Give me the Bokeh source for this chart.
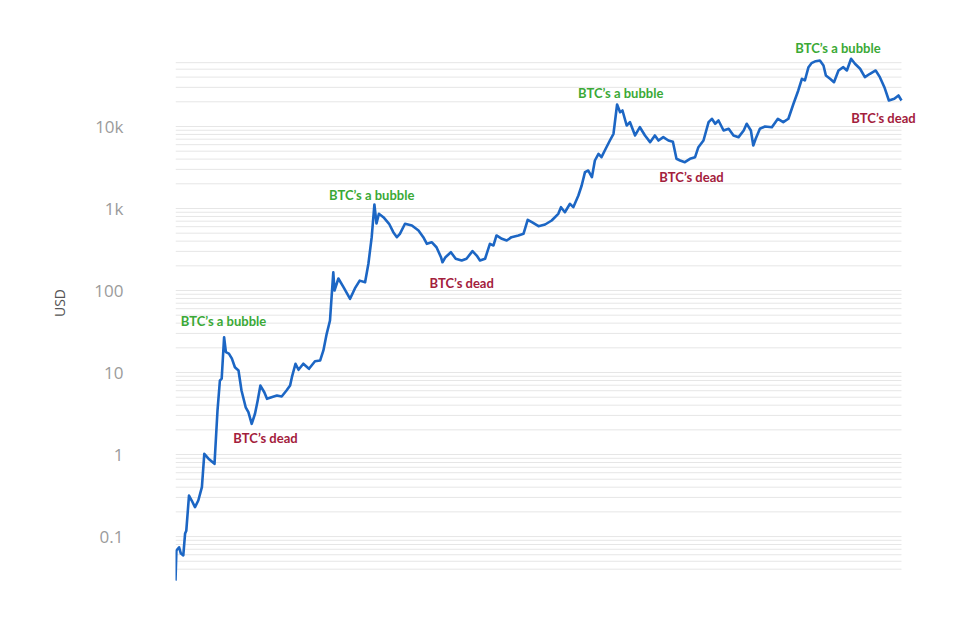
from bokeh.plotting import figure
from bokeh.models import Range1d, FixedTicker, LabelSet, ColumnDataSource
from bokeh.core.properties import value
from bokeh.embed import file_html
from bokeh.resources import INLINE

# Bitcoin price (USD), x in decimal years
year = [2010.53, 2010.545, 2010.59, 2010.62, 2010.66, 2010.69, 2010.71, 2010.755, 2010.80, 2010.855,
        2010.91, 2010.97, 2011.01, 2011.08, 2011.18, 2011.23, 2011.27, 2011.30, 2011.34, 2011.37,
        2011.42, 2011.47, 2011.52, 2011.58, 2011.63, 2011.70, 2011.745, 2011.80, 2011.855, 2011.90,
        2011.945, 2012.01, 2012.055, 2012.13, 2012.22, 2012.30, 2012.38, 2012.44, 2012.47, 2012.53,
        2012.58, 2012.66, 2012.755, 2012.855, 2012.94, 2012.995, 2013.05, 2013.105, 2013.16, 2013.18,
        2013.245, 2013.33, 2013.44, 2013.52, 2013.60, 2013.69, 2013.745, 2013.80, 2013.845, 2013.88,
        2013.92, 2013.995, 2014.09, 2014.16, 2014.22, 2014.27, 2014.355, 2014.47, 2014.58, 2014.66,
        2014.72, 2014.80, 2014.88, 2014.955, 2014.98, 2015.03, 2015.12, 2015.20, 2015.30, 2015.38,
        2015.48, 2015.55, 2015.605, 2015.69, 2015.77, 2015.83, 2015.88, 2015.97, 2016.05, 2016.13,
        2016.245, 2016.33, 2016.40, 2016.47, 2016.58, 2016.69, 2016.80, 2016.91, 2016.955, 2017.02,
        2017.105, 2017.16, 2017.245, 2017.30, 2017.355, 2017.41, 2017.47, 2017.52, 2017.58, 2017.63,
        2017.70, 2017.77, 2017.83, 2017.89, 2017.94, 2017.98, 2018.05, 2018.105, 2018.19, 2018.27,
        2018.355, 2018.44, 2018.52, 2018.58, 2018.66, 2018.745, 2018.82, 2018.88, 2018.94, 2019.02,
        2019.105, 2019.19, 2019.245, 2019.33, 2019.415, 2019.47, 2019.525, 2019.58, 2019.665, 2019.75,
        2019.83, 2019.915, 2020.00, 2020.05, 2020.12, 2020.16, 2020.20, 2020.27, 2020.355, 2020.47,
        2020.57, 2020.66, 2020.745, 2020.83, 2020.91, 2020.97, 2021.02, 2021.08, 2021.13, 2021.20,
        2021.27, 2021.33, 2021.37, 2021.44, 2021.505, 2021.58, 2021.66, 2021.72, 2021.79, 2021.855,
        2021.94, 2022.02, 2022.105, 2022.20, 2022.27, 2022.345, 2022.42, 2022.51, 2022.58, 2022.63]

price = [0.029, 0.0675, 0.074, 0.062, 0.059, 0.109, 0.118, 0.316, 0.275, 0.228,
         0.275, 0.40, 1.02, 0.89, 0.77, 3.44, 7.99, 8.45, 26.9, 17.7,
         17.0, 14.8, 11.6, 10.6, 6.03, 3.77, 3.28, 2.37, 3.14, 4.56,
         6.94, 5.75, 4.78, 5.0, 5.24, 5.1, 6.03, 6.94, 8.77, 12.8,
         10.8, 12.8, 11.1, 13.7, 14.0, 18.6, 29.6, 43.1, 167, 100,
         140, 110, 79.2, 106, 132, 126, 212, 447, 1119, 656,
         861, 783, 651, 514, 447, 491, 651, 621, 539, 447,
         371, 388, 337, 255, 221, 255, 293, 244, 232, 244,
         302, 267, 232, 244, 371, 354, 469, 427, 407, 447,
         469, 491, 728, 681, 608, 638, 714, 861, 1037, 901,
         1141, 1037, 1441, 1907, 2772, 2905, 2409, 3848, 4645, 4226,
         5346, 6745, 8147, 18540, 14930, 15670, 10280, 11280, 7770, 9800,
         7770, 6440, 7770, 6745, 7410, 6745, 6500, 4036, 3848, 3670,
         4036, 4226, 5595, 6745, 11280, 12410, 10790, 11830, 8937, 9380,
         7770, 7410, 8937, 10790, 8937, 5865, 7080, 9380, 10000, 9800,
         12410, 11280, 12410, 18920, 27480, 38170, 36390, 52860, 59150, 62520,
         63830, 55460, 41880, 38170, 34690, 48170, 52860, 48170, 66960, 58170,
         50550, 39940, 43940, 48170, 39940, 30150, 20750, 21780, 23880, 20750]

tick_values = [0.1, 1, 10, 100, 1000, 10000]
tick_labels = ["0.1", "1", "10", "100", "1k", "10k"]

note_text = ["BTC\u2019s a bubble", "BTC\u2019s dead", "BTC\u2019s a bubble", "BTC\u2019s dead",
             "BTC\u2019s a bubble", "BTC\u2019s dead", "BTC\u2019s a bubble", "BTC\u2019s dead"]
note_year = [2011.33, 2012.03, 2013.80, 2015.30, 2017.95, 2019.13, 2021.57, 2022.33]
note_price = [41.9, 1.61, 1441, 125, 25250, 2388, 89340, 12520]

GREEN = "#3aa936"
RED = "#a3203c"
BLUE = "#1c66c4"

# grid lines at every 1..9 multiple within each decade
grid_values = [m * 10.0 ** k for k in range(-2, 5) for m in range(1, 10)
               if 0.039 <= m * 10.0 ** k <= 60001]

p = figure(width=944, height=600, y_axis_type="log",
           x_range=Range1d(2010.53, 2022.947), y_range=Range1d(0.0253, 196000),
           output_backend="svg", toolbar_location=None, x_axis_location=None,
           min_border_left=175, min_border_right=24, min_border_top=20, min_border_bottom=15)
p.outline_line_color = None
p.background_fill_color = "white"
p.border_fill_color = "white"
p.ygrid.visible = False
p.xgrid.visible = False

# horizontal guide lines spanning the data period
n = len(grid_values)
p.segment(x0=[year[0]] * n, x1=[year[-1]] * n, y0=grid_values, y1=grid_values,
          line_color="#e6e6e6", line_width=1)

ax = p.yaxis[0]
ax.ticker = FixedTicker(ticks=tick_values)
ax.major_label_overrides = dict(zip(tick_values, tick_labels))
ax.axis_line_color = None
ax.major_tick_line_color = None
ax.minor_tick_line_color = None
ax.major_tick_out = 0
ax.major_tick_in = 0
ax.major_label_standoff = 52
ax.major_label_text_align = "center"
ax.major_label_text_font = "Open Sans"
ax.major_label_text_font_size = "17px"
ax.major_label_text_color = "#9b9b9b"
ax.axis_label = "USD"
ax.axis_label_text_font = "Open Sans"
ax.axis_label_text_font_size = "14px"
ax.axis_label_text_font_style = "normal"
ax.axis_label_text_color = "#555555"
ax.axis_label_standoff = 22

p.line(year, price, line_color=BLUE, line_width=2.6, line_join="round")

src = ColumnDataSource(dict(x=note_year, y=note_price, text=note_text,
                            color=[GREEN if "bubble" in t else RED for t in note_text]))
labels = LabelSet(x="x", y="y", text="text", source=src, text_color="color",
                  text_align="center", text_baseline="middle",
                  text_font=value("Lato"), text_font_style="bold", text_font_size="13px")
p.add_layout(labels)

open("out.html", "w").write(file_html(p, INLINE))
